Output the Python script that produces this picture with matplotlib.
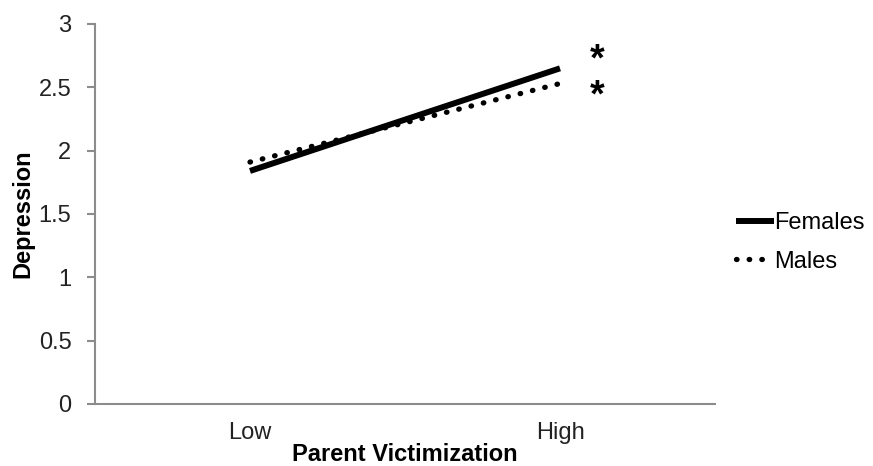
import matplotlib
matplotlib.use("Agg")
import matplotlib.pyplot as plt

plt.rcParams['font.family'] = ['Liberation Sans', 'DejaVu Sans']

categories = ["Low", "High"]
females = [1.84, 2.65]
males = [1.91, 2.53]
significance = ["*", "*"]  # Females, Males at High
y_ticks = [0, 0.5, 1, 1.5, 2, 2.5, 3]
y_tick_labels = ["0", "0.5", "1", "1.5", "2", "2.5", "3"]

FS = 17

fig = plt.figure(figsize=(8.73, 4.66), dpi=100)
ax = fig.add_axes([95 / 873, 62 / 466, 620 / 873, 380 / 466])

x = list(range(len(categories)))
ax.plot(x, females, color="black", linewidth=4.3, solid_capstyle="butt", label="Females")
ax.plot(x, males, color="black", linewidth=3.8, linestyle=(0, (0.1, 2.3)),
        dash_capstyle="round", label="Males")

ax.text(1.12, females[1] + 0.06, significance[0], fontsize=27, fontweight="bold",
        ha="center", va="center")
ax.text(1.12, males[1] - 0.10, significance[1], fontsize=27, fontweight="bold",
        ha="center", va="center")

ax.set_xlim(-0.5, 1.5)
ax.set_ylim(0, 3)
ax.set_xticks(x)
ax.set_xticklabels(categories)
ax.set_yticks(y_ticks)
ax.set_yticklabels(y_tick_labels)

for side in ("top", "right"):
    ax.spines[side].set_visible(False)
for side in ("left", "bottom"):
    ax.spines[side].set_color("#8c8c8c")
    ax.spines[side].set_linewidth(1.5)

ax.tick_params(axis="y", direction="out", length=6, width=1.5, color="#8c8c8c",
               labelsize=FS, pad=11, labelcolor="#222222")
ax.tick_params(axis="x", length=0, labelsize=FS, pad=13, labelcolor="#222222")

ax.set_xlabel("Parent Victimization", fontsize=FS, fontweight="bold", labelpad=-1)
ax.set_ylabel("Depression", fontsize=FS, fontweight="bold", labelpad=3)

ax.legend(loc="center left", bbox_to_anchor=(1.0, 0.425), frameon=False,
          fontsize=FS, handlelength=1.6, handletextpad=0.0, labelspacing=0.7)

fig.savefig("out.png", dpi=100)
